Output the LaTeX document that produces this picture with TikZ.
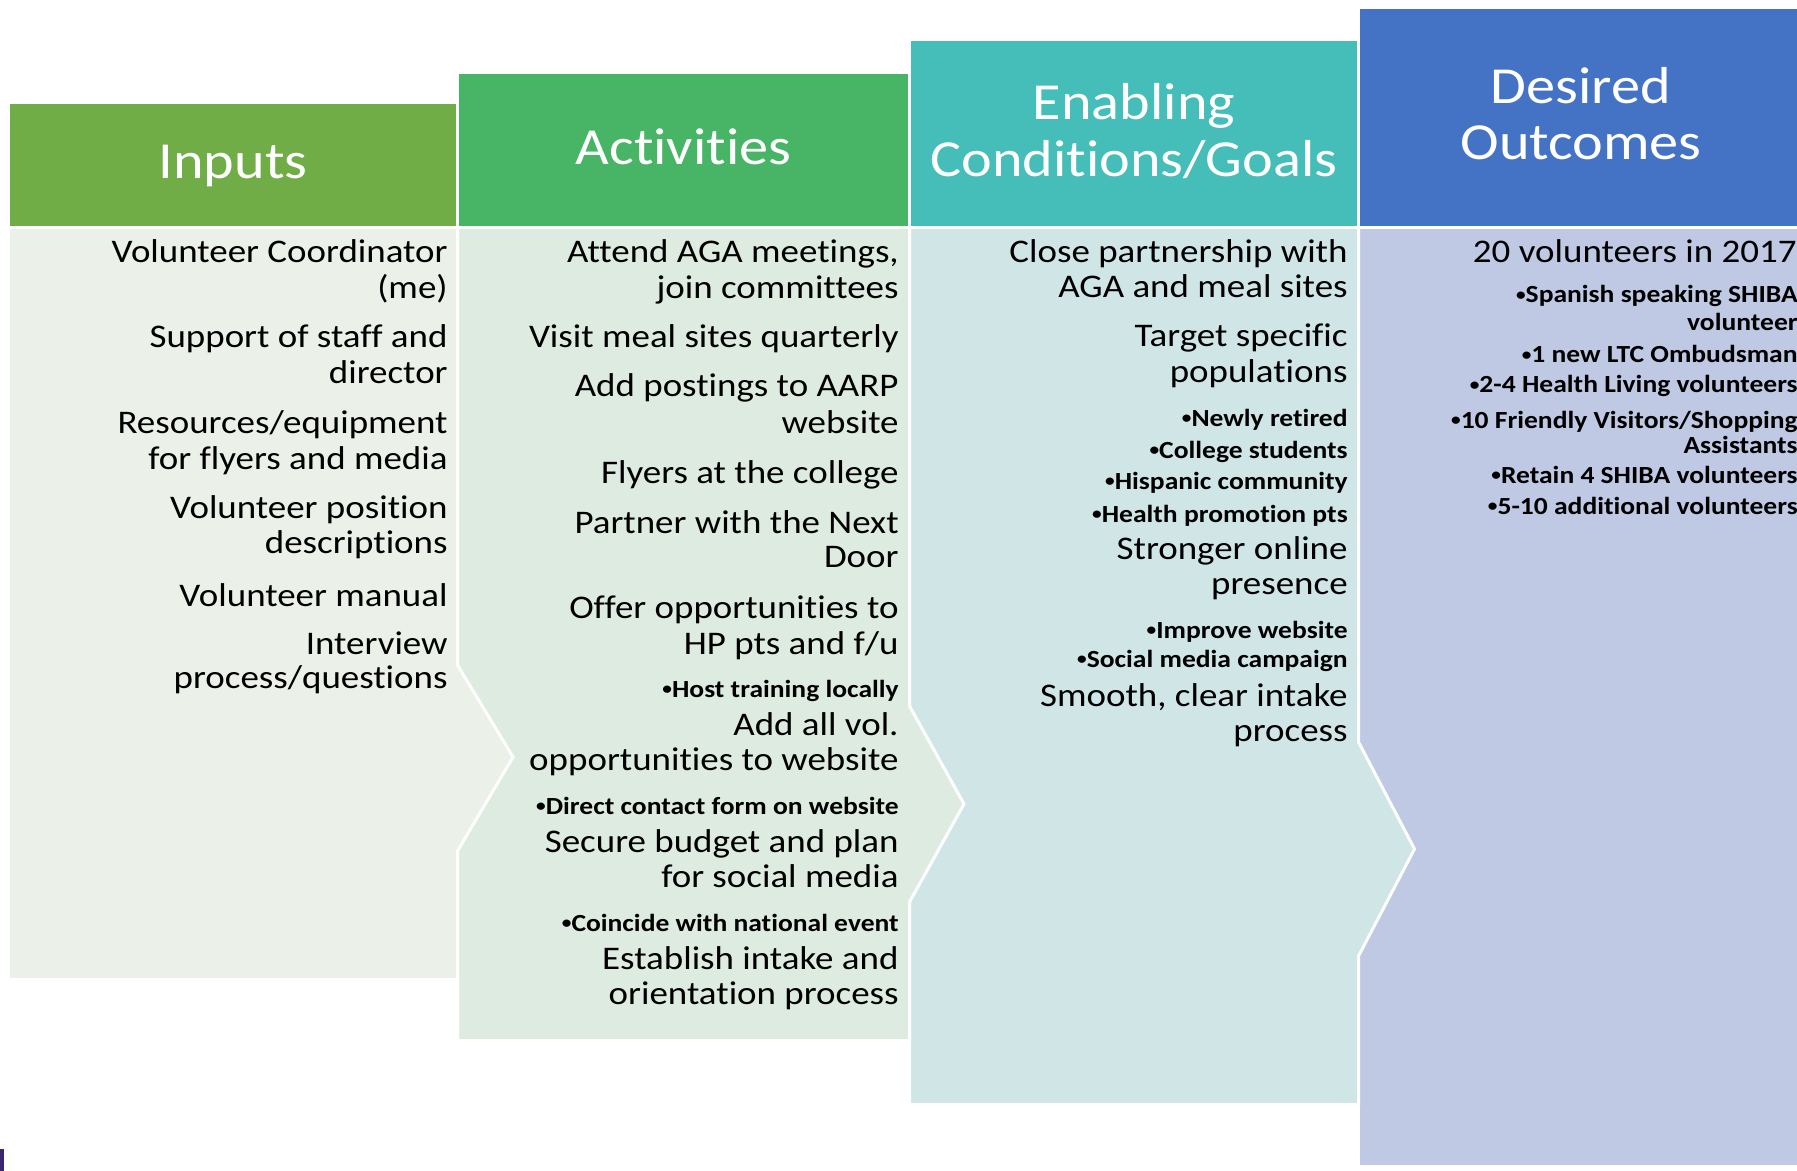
\documentclass[tikz,border=0pt]{standalone}
\usepackage{fontspec}
\newfontfamily\cf{Carlito}[FakeStretch=1.12, Ligatures=NoCommon]
\definecolor{inH}{HTML}{70AD47}
\definecolor{inB}{HTML}{EBF0E8}
\definecolor{acH}{HTML}{48B566}
\definecolor{acB}{HTML}{DEEBE1}
\definecolor{enH}{HTML}{45BDB8}
\definecolor{enB}{HTML}{CFE5E6}
\definecolor{deH}{HTML}{4472C4}
\definecolor{deB}{HTML}{BFC9E3}
\definecolor{purplebar}{HTML}{3B2870}
\newcommand\rline[5]{\node[#4,anchor=base east] (#1) at (#2,#3) {#5};}
\newcommand\bul{\raisebox{0.1em}{\scalebox{0.7}{•}}}
\tikzset{
  hdr/.style={font=\cf\fontsize{26}{28}\selectfont, text=white, inner sep=0, anchor=base},
  big/.style={font=\cf\fontsize{16.5}{18}\selectfont, text=black, inner sep=0},
  sml/.style={font=\cf\bfseries\fontsize{12.3}{14}\selectfont, text=black, inner sep=0},
  panel/.style={draw=white, line width=1.5pt, line join=miter},
}
\begin{document}
\begin{tikzpicture}[x=0.5pt,y=-0.5pt]
\useasboundingbox (0,0) rectangle (1797,1171);
\fill[white] (0,0) rectangle (1797,1171);
% bodies, right to left
\path[panel, fill=deB] (1358.5,227.5) rectangle (1798.5,1166.5);
\path[panel, fill=enB] (909.5,227.5) -- (1358.5,227.5) -- (1358.5,742) -- (1414.5,849) -- (1358.5,956) -- (1358.5,1104.5) -- (909.5,1104.5) -- cycle;
\path[panel, fill=acB] (457.5,227.5) -- (909.5,227.5) -- (909.5,706) -- (964,804) -- (909.5,902) -- (909.5,1040.5) -- (457.5,1040.5) -- cycle;
\path[panel, fill=inB] (8.5,227.5) -- (457.5,227.5) -- (457.5,665) -- (513,757) -- (457.5,851) -- (457.5,979.5) -- (8.5,979.5) -- cycle;
% headers
\path[panel, fill=inH] (8.5,102.5) rectangle (457.5,227.5);
\path[panel, fill=acH] (457.5,72.5) rectangle (909.5,227.5);
\path[panel, fill=enH] (909.5,39.5) rectangle (1358.5,227.5);
\path[panel, fill=deH] (1358.5,7.5) rectangle (1798.5,227.5);
\fill[purplebar] (0,1149) rectangle (4,1171);
% header texts
\node[hdr] (hIn) at (233,179) {Inputs};
\node[hdr] (hAct) at (683.5,165) {Activities};
\node[hdr] (hEn1) at (1134,120) {Enabling};
\node[hdr] (hEn2) at (1134,177) {Conditions/Goals};
\node[hdr] (hDe1) at (1581,104) {Desired};
\node[hdr] (hDe2) at (1581,160) {Outcomes};
% inputs
\rline{i1}{448}{263}{big}{Volunteer Coordinator}
\rline{i2}{448}{299}{big}{(me)}
\rline{i3}{448}{348}{big}{Support of staff and}
\rline{i4}{448}{383}{big}{director}
\rline{i5}{448}{433}{big}{Resources/equipment}
\rline{i6}{448}{469}{big}{for flyers and media}
\rline{i7}{448}{518}{big}{Volunteer position}
\rline{i8}{448}{553}{big}{descriptions}
\rline{i9}{448}{606}{big}{Volunteer manual}
\rline{i10}{448}{654}{big}{Interview}
\rline{i11}{448}{688}{big}{process/questions}
% activities
\rline{a1}{899}{263}{big}{Attend AGA meetings,}
\rline{a2}{899}{299}{big}{join committees}
\rline{a3}{899}{348}{big}{Visit meal sites quarterly}
\rline{a4}{899}{396}{big}{Add postings to AARP}
\rline{a5}{899}{433}{big}{website}
\rline{a6}{899}{483}{big}{Flyers at the college}
\rline{a7}{899}{533}{big}{Partner with the Next}
\rline{a8}{899}{567}{big}{Door}
\rline{a9}{899}{618}{big}{Offer opportunities to}
\rline{a10}{899}{654}{big}{HP pts and f/u}
\rline{a11}{899}{697}{sml}{\bul Host training locally}
\rline{a12}{899}{735}{big}{Add all vol.}
\rline{a13}{899}{770}{big}{opportunities to website}
\rline{a14}{899}{814}{sml}{\bul Direct contact form on website}
\rline{a15}{899}{852}{big}{Secure budget and plan}
\rline{a16}{899}{887}{big}{for social media}
\rline{a17}{899}{931}{sml}{\bul Coincide with national event}
\rline{a18}{899}{969}{big}{Establish intake and}
\rline{a19}{899}{1004}{big}{orientation process}
% enabling
\rline{e1}{1348}{263}{big}{Close partnership with}
\rline{e2}{1348}{298}{big}{AGA and meal sites}
\rline{e3}{1348}{347}{big}{Target specific}
\rline{e4}{1348}{382}{big}{populations}
\rline{e5}{1348}{426}{sml}{\bul Newly retired}
\rline{e6}{1348}{458}{sml}{\bul College students}
\rline{e7}{1348}{489}{sml}{\bul Hispanic community}
\rline{e8}{1348}{522}{sml}{\bul Health promotion pts}
\rline{e9}{1348}{559}{big}{Stronger online}
\rline{e10}{1348}{594}{big}{presence}
\rline{e11}{1348}{638}{sml}{\bul Improve website}
\rline{e12}{1348}{667}{sml}{\bul Social media campaign}
\rline{e13}{1348}{706}{big}{Smooth, clear intake}
\rline{e14}{1348}{741}{big}{process}
% desired
\rline{d1}{1797}{263}{big}{20 volunteers in 2017}
\rline{d2}{1798}{303}{sml}{\bul Spanish speaking SHIBA}
\rline{d3}{1798}{330}{sml}{volunteer}
\rline{d4}{1798}{363}{sml}{\bul 1 new LTC Ombudsman}
\rline{d5}{1798}{393}{sml}{\bul 2-4 Health Living volunteers}
\rline{d6}{1798}{428}{sml}{\bul 10 Friendly Visitors/Shopping}
\rline{d7}{1798}{453}{sml}{Assistants}
\rline{d8}{1798}{483}{sml}{\bul Retain 4 SHIBA volunteers}
\rline{d9}{1798}{514}{sml}{\bul 5-10 additional volunteers}
\end{tikzpicture}
\end{document}
